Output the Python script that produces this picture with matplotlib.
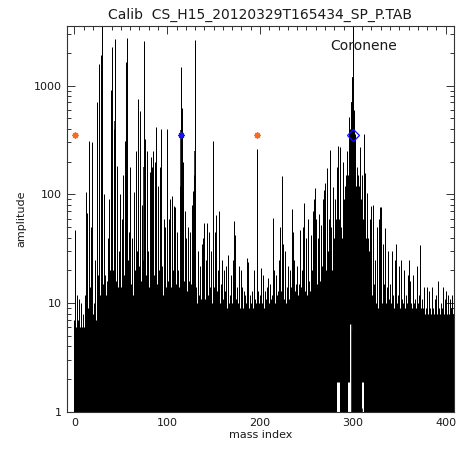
import numpy as np
import matplotlib
matplotlib.use('Agg')
import matplotlib.pyplot as plt
from matplotlib.ticker import FixedLocator, FixedFormatter, NullFormatter, MultipleLocator

title = "Calib  CS_H15_20120329T165434_SP_P.TAB"

# peak amplitude per unit mass index (0..408)
amplitude = [
    7, 47, 6, 12, 7, 11, 6, 10, 6, 8,
    6, 12, 8, 105, 68, 9, 309, 14, 50, 300,
    8, 10, 25, 7, 710, 18, 120, 1590, 12, 1900,
    5000, 15, 100, 18, 12, 16, 40, 90, 20, 910,
    200, 2240, 20, 400, 2680, 16, 182, 14, 30, 100,
    14, 60, 150, 18, 310, 20, 1630, 2760, 25, 45,
    180, 15, 40, 12, 105, 20, 250, 30, 430, 745,
    22, 590, 16, 80, 25, 2580, 320, 18, 250, 30,
    14, 160, 220, 20, 180, 250, 18, 200, 415, 15,
    120, 20, 180, 400, 22, 12, 60, 16, 50, 14,
    395, 16, 60, 90, 14, 97, 20, 79, 76, 15,
    12, 45, 20, 14, 120, 1490, 617, 200, 16, 70,
    40, 13, 50, 16, 10, 45, 15, 80, 107, 150,
    2640, 14, 10, 30, 12, 22, 11, 35, 14, 40,
    55, 11, 25, 54, 12, 45, 14, 30, 10, 309,
    14, 45, 12, 65, 13, 20, 70, 10, 15, 25,
    11, 20, 13, 22, 9, 15, 28, 10, 12, 18,
    10, 25, 57, 42, 11, 14, 10, 22, 9, 20,
    11, 14, 9, 13, 12, 10, 26, 24, 9, 12,
    10, 13, 9, 12, 20, 11, 10, 264, 13, 10,
    12, 21, 10, 18, 9, 13, 11, 10, 14, 17,
    10, 15, 11, 12, 61, 20, 10, 18, 12, 13,
    25, 12, 50, 13, 146, 35, 11, 30, 10, 14,
    22, 11, 20, 14, 74, 45, 12, 25, 13, 15,
    22, 12, 15, 47, 14, 20, 50, 83, 13, 18,
    40, 12, 60, 16, 13, 42, 20, 70, 90, 114,
    60, 15, 40, 18, 66, 16, 52, 22, 90, 110,
    128, 20, 173, 30, 60, 258, 25, 50, 20, 116,
    40, 90, 60, 180, 276, 60, 270, 50, 40, 200,
    90, 60, 120, 150, 250, 150, 510, 400, 700, 1200,
    5000, 600, 360, 120, 180, 100, 150, 120, 275, 90,
    150, 60, 358, 158, 40, 102, 40, 30, 30, 60,
    78, 12, 80, 15, 25, 10, 50, 9, 60, 76,
    77, 10, 35, 12, 15, 49, 10, 14, 30, 11,
    15, 10, 30, 12, 9, 25, 14, 35, 10, 12,
    22, 9, 25, 11, 10, 20, 9, 12, 10, 18,
    25, 9, 16, 10, 9, 18, 10, 11, 9, 22,
    10, 12, 34, 9, 11, 8, 9, 14, 8, 9,
    14, 8, 13, 9, 8, 14, 9, 8, 11, 9,
    12, 8, 16, 9, 8, 10, 9, 14, 8, 11,
    13, 8, 12, 9, 8, 11, 9, 12, 8,
]
mass_index = np.arange(len(amplitude))

# dark (saturated) lower part of the strongest peaks
core_masses = [30, 44, 57, 75, 115, 130, 299, 300, 301]
core_heights = [400, 470, 310, 180, 390, 250, 700, 1200, 400]

# dense noise floor level
noise_level = 5.5

# masses whose signal never drops to the floor (white gaps near the bottom)
gap_masses = [283, 284, 285, 286, 295, 296, 297, 298, 299, 301, 310, 311]
gap_bottoms = [1.9, 1.9, 1.9, 1.9, 1.9, 1.9, 6.5, 6.5, 6.5, 1.9, 1.9, 1.9]

# calibration markers
orange_masses = [1, 197]
blue_masses = [115]
coronene_mass = [300]
marker_level = 355.0

label_text = "Coronene"
label_mass = 312
label_level = 2130

bottoms = np.full(len(amplitude), 0.5)
for m, b in zip(gap_masses, gap_bottoms):
    bottoms[m] = b
floor_heights = np.clip(noise_level - bottoms, 0, None)

txt = '#1a1a1a'
plt.rcParams['font.family'] = ['DejaVu Sans']

fig = plt.figure(figsize=(4.58, 4.49), dpi=100)
W, H = 458, 449
ax = fig.add_axes([67 / W, (H - 412) / H, (454 - 67) / W, (412 - 25.7) / H])

ax.bar(mass_index, floor_heights, bottom=bottoms, width=1.0, color='black',
       linewidth=0, align='center')
ax.vlines(mass_index, bottoms, amplitude, colors='black', linewidth=0.72, snap=True)
ax.vlines(core_masses, 1.0, core_heights, colors='black', linewidth=1.1, snap=True)

ax.plot(orange_masses, [marker_level] * len(orange_masses), linestyle='none',
        marker=(8, 2, 0), markersize=4.5, markeredgecolor='#ff6a1a', markeredgewidth=1.0)
ax.plot(blue_masses, [marker_level] * len(blue_masses), linestyle='none',
        marker=(8, 2, 0), markersize=4.5, markeredgecolor='#1010ff', markeredgewidth=1.0)
ax.plot(coronene_mass, [marker_level] * len(coronene_mass), linestyle='none',
        marker='D', markersize=6.5, markerfacecolor='none', markeredgecolor='#1010ff',
        markeredgewidth=0.9)

ax.text(label_mass, label_level, label_text, ha='center', va='baseline', fontsize=10, color=txt)

ax.set_yscale('log')
ax.set_ylim(1, 3550)
ax.set_xlim(-8, 409)

ax.xaxis.set_major_locator(FixedLocator([0, 100, 200, 300, 400]))
ax.xaxis.set_minor_locator(MultipleLocator(10))
ax.yaxis.set_major_locator(FixedLocator([1, 10, 100, 1000]))
ax.yaxis.set_major_formatter(FixedFormatter(['1', '10', '100', '1000']))
minor_y = [k * 10 ** d for d in range(0, 4) for k in range(2, 10) if k * 10 ** d < 3550]
ax.yaxis.set_minor_locator(FixedLocator(minor_y))
ax.yaxis.set_minor_formatter(NullFormatter())

ax.tick_params(which='both', direction='in', top=True, right=True, colors='#333333',
               labelcolor=txt, labelsize=8, width=0.7, pad=4)
ax.tick_params(which='major', length=6)
ax.tick_params(which='minor', length=3)
for s in ax.spines.values():
    s.set_linewidth(0.8)
    s.set_color('#333333')

ax.set_title(title, fontsize=10, color=txt, pad=5)
ax.set_xlabel('mass index', fontsize=8, color=txt, labelpad=2)
ax.set_ylabel('amplitude', fontsize=8, color=txt, labelpad=5)

fig.savefig('out.png', dpi=100)
